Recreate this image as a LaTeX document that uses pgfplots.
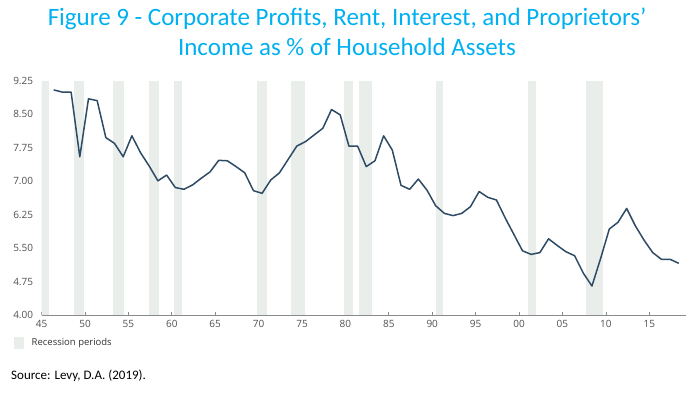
\documentclass[border=0pt]{standalone}
\usepackage{fontspec}
\setmainfont{Open Sans}
\newfontfamily\calibri{Carlito}
\usepackage{pgfplots}
\usepackage{pgfplotstable}
\pgfplotsset{compat=1.18}
\definecolor{titleblue}{HTML}{00B0F0}
\definecolor{lineblue}{HTML}{2D4B64}
\definecolor{band}{HTML}{EAEEEB}
\definecolor{ticklab}{HTML}{505050}
\definecolor{axisgray}{HTML}{8A8A8A}

\pgfplotstableread{
year val
1946 9.05
1947 9.00
1948 9.00
1949 7.55
1950 8.85
1951 8.81
1952 7.98
1953 7.85
1954 7.55
1955 8.02
1956 7.64
1957 7.34
1958 7.01
1959 7.14
1960 6.86
1961 6.82
1962 6.92
1963 7.07
1964 7.21
1965 7.47
1966 7.46
1967 7.33
1968 7.19
1969 6.79
1970 6.73
1971 7.03
1972 7.19
1973 7.49
1974 7.79
1975 7.89
1976 8.04
1977 8.19
1978 8.61
1979 8.49
1980 7.79
1981 7.79
1982 7.33
1983 7.46
1984 8.02
1985 7.70
1986 6.91
1987 6.82
1988 7.05
1989 6.80
1990 6.45
1991 6.28
1992 6.23
1993 6.28
1994 6.43
1995 6.77
1996 6.64
1997 6.58
1998 6.18
1999 5.81
2000 5.44
2001 5.36
2002 5.40
2003 5.71
2004 5.56
2005 5.42
2006 5.33
2007 4.94
2008 4.65
2009 5.27
2010 5.93
2011 6.08
2012 6.39
2013 6.00
2014 5.68
2015 5.40
2016 5.25
2017 5.25
2018 5.16
}\datatable

\begin{document}
\begin{tikzpicture}[x=1pt,y=1pt]
\useasboundingbox (0,0) rectangle (700,-394);
\node[anchor=base, text=titleblue, font=\calibri\fontsize{25}{30}\selectfont, inner sep=0] at (347,-25) {Figure 9 - Corporate Profits, Rent, Interest, and Proprietors’};
\node[anchor=base, text=titleblue, font=\calibri\fontsize{25}{30}\selectfont, inner sep=0] at (347,-55) {Income as \% of Household Assets};
\begin{axis}[
  at={(41.6pt,-315pt)}, anchor=south west,
  scale only axis, width=644.1pt, height=234pt,
  xmin=1945, xmax=2019.2, ymin=4, ymax=9.25,
  axis lines*=left,
  y axis line style={draw=none},
  x axis line style={draw=axisgray, line width=0.7pt},
  xtick={1945,1950,...,2015},
  xticklabels={45,50,55,60,65,70,75,80,85,90,95,00,05,10,15},
  ytick={4,4.75,5.5,6.25,7,7.75,8.5,9.25},
  yticklabel style={/pgf/number format/fixed, /pgf/number format/fixed zerofill, /pgf/number format/precision=2, xshift=-5pt},
  xticklabel style={yshift=-2pt},
  /pgf/number format/assume math mode=true,
  tick label style={font=\fontsize{10}{11}\selectfont, text=ticklab},
  xtick style={draw=axisgray, line width=0.7pt},
  ytick style={draw=none},
  tick align=inside, major tick length=3pt,
  clip=true,
]
\fill[band] (axis cs:1944.9,4) rectangle (axis cs:1945.85,9.25);
\fill[band] (axis cs:1948.73,4) rectangle (axis cs:1949.92,9.25);
\fill[band] (axis cs:1953.26,4) rectangle (axis cs:1954.49,9.25);
\fill[band] (axis cs:1957.37,4) rectangle (axis cs:1958.56,9.25);
\fill[band] (axis cs:1960.25,4) rectangle (axis cs:1961.21,9.25);
\fill[band] (axis cs:1969.85,4) rectangle (axis cs:1971.0,9.25);
\fill[band] (axis cs:1973.70,4) rectangle (axis cs:1975.35,9.25);
\fill[band] (axis cs:1979.87,4) rectangle (axis cs:1980.84,9.25);
\fill[band] (axis cs:1981.57,4) rectangle (axis cs:1983.03,9.25);
\fill[band] (axis cs:1990.44,4) rectangle (axis cs:1991.21,9.25);
\fill[band] (axis cs:2001.07,4) rectangle (axis cs:2001.96,9.25);
\fill[band] (axis cs:2007.72,4) rectangle (axis cs:2009.64,9.25);
\addplot[lineblue, line width=1.5pt, line join=round, mark=none] table[x expr=\thisrow{year}+0.4, y=val] {\datatable};
\end{axis}
\fill[band] (14,-337) rectangle (24,-349);
\node[anchor=west, inner sep=0, font=\fontsize{9.5}{11}\selectfont, text=black!80] at (31.5,-343) {Recession periods};
\node[anchor=west, inner sep=0, font=\calibri\fontsize{13}{15}\selectfont] at (11,-376) {Source: Levy, D.A. (2019).};
\end{tikzpicture}
\end{document}
